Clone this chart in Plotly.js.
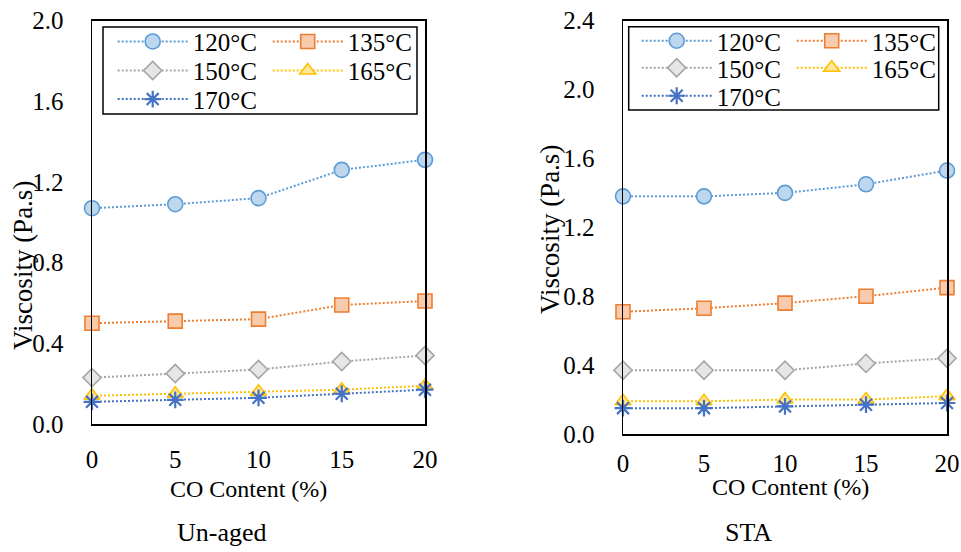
<!DOCTYPE html>
<html>
<head>
<meta charset="utf-8">
<script src="https://cdn.plot.ly/plotly-3.0.1.min.js"></script>
<style>html,body{margin:0;padding:0;background:#fff;}#chart{width:961px;height:552px;}</style>
</head>
<body>
<div id="chart"></div>
<script>
// ---- data ----
const coContent = [0, 5, 10, 15, 20];
const xTickVals = [0, 5, 10, 15, 20];
const tempLabels = ['120°C', '135°C', '150°C', '165°C', '170°C'];
const unaged120 = [1.07, 1.09, 1.12, 1.26, 1.31];
const unaged135 = [0.50, 0.51, 0.52, 0.59, 0.61];
const unaged150 = [0.23, 0.25, 0.27, 0.31, 0.34];
const unaged165 = [0.14, 0.15, 0.16, 0.17, 0.19];
const unaged170 = [0.11, 0.12, 0.13, 0.15, 0.17];
const sta120 = [1.38, 1.38, 1.40, 1.45, 1.53];
const sta135 = [0.71, 0.73, 0.76, 0.80, 0.85];
const sta150 = [0.37, 0.37, 0.37, 0.41, 0.44];
const sta165 = [0.19, 0.19, 0.20, 0.20, 0.22];
const sta170 = [0.15, 0.15, 0.16, 0.17, 0.18];
const leftYTicks = [0, 0.4, 0.8, 1.2, 1.6, 2.0];
const rightYTicks = [0, 0.4, 0.8, 1.2, 1.6, 2.0, 2.4];

// ---- styles ----
const FONT = 'Times New Roman, Liberation Serif, DejaVu Serif, serif';
const styles = [
  {line: '#5B9BD5', symbol: 'circle', fill: '#BDD7EE', size: 15},
  {line: '#ED7D31', symbol: 'square', fill: '#F8CBAD', size: 14},
  {line: '#A5A5A5', symbol: 'diamond', fill: '#E7E6E6', size: 14},
  {line: '#FFC000', symbol: 'triangle-up', fill: '#FFE699', size: 14},
  {line: '#4472C4', symbol: 'asterisk-open', fill: '#4472C4', size: 14}
];
const unagedSeries = [unaged120, unaged135, unaged150, unaged165, unaged170];
const staSeries = [sta120, sta135, sta150, sta165, sta170];
const leftLegends = ['legend', 'legend', 'legend2', 'legend2', 'legend3'];
const rightLegends = ['legend4', 'legend4', 'legend5', 'legend5', 'legend6'];

function mk(ys, i, xa, ya, leg) {
  const s = styles[i];
  return {
    x: coContent, y: ys, name: tempLabels[i], type: 'scatter', mode: 'lines+markers',
    xaxis: xa, yaxis: ya, legend: leg, cliponaxis: false,
    line: {color: s.line, width: 2, dash: '2px,2px'},
    marker: {symbol: s.symbol, size: s.size, color: s.fill,
      line: {color: s.line, width: s.symbol === 'asterisk-open' ? 2.2 : 1.6}}
  };
}
const traces = [];
unagedSeries.forEach((ys, i) => traces.push(mk(ys, i, 'x', 'y', leftLegends[i])));
staSeries.forEach((ys, i) => traces.push(mk(ys, i, 'x2', 'y2', rightLegends[i])));

const W = 961, H = 552;
const px = v => v / W, py = v => 1 - v / H;

const axFont = {family: FONT, size: 25, color: '#000'};
function xAxis(dom, anchor, standoff) {
  return {domain: dom, anchor: anchor, range: [0, 20], tickvals: xTickVals, ticktext: xTickVals.map(String),
    showgrid: false, zeroline: false, showline: true, mirror: true, linecolor: '#000', linewidth: 1.5,
    ticks: '', tickfont: axFont, ticklabelstandoff: standoff, automargin: false, fixedrange: true};
}
function yAxis(dom, anchor, rng, tv) {
  return {domain: dom, anchor: anchor, range: rng, tickvals: tv, ticktext: tv.map(v => v.toFixed(1)),
    showgrid: false, zeroline: false, showline: true, mirror: true, linecolor: '#000', linewidth: 1.5,
    ticks: '', tickfont: axFont, ticklabelstandoff: 22, automargin: false, fixedrange: true};
}
function leg(x, yc) {
  return {orientation: 'h', x: x, xanchor: 'left', y: yc, yanchor: 'middle',
    font: {family: FONT, size: 25, color: '#000'}, bgcolor: 'rgba(0,0,0,0)', borderwidth: 0,
    itemwidth: 70, entrywidth: 70, entrywidthmode: 'pixels', tracegroupgap: 0, itemclick: false};
}
const ann = (text, x, y, angle, size) => ({text: text, x: px(x), y: py(y), xref: 'paper', yref: 'paper',
  showarrow: false, xanchor: 'center', yanchor: 'middle', textangle: angle || 0,
  font: {family: FONT, size: size || 24, color: '#000'}});

const layout = {
  width: W, height: H, margin: {l: 0, r: 0, t: 0, b: 0, autoexpand: false},
  paper_bgcolor: '#fff', plot_bgcolor: '#fff', showlegend: true,
  font: {family: FONT, color: '#000'},
  xaxis: xAxis([px(92), px(425)], 'y', 12),
  yaxis: yAxis([py(424), py(20.7)], 'x', [0, 2.0], leftYTicks),
  xaxis2: xAxis([px(623), px(947)], 'y2', 6),
  yaxis2: yAxis([py(434), py(20.7)], 'x2', [0, 2.4], rightYTicks),
  legend: leg(px(112.7), py(41.7)),
  legend2: leg(px(112.7), py(70.7)),
  legend3: leg(px(112.7), py(99.3)),
  legend4: leg(px(636.7), py(41)),
  legend5: leg(px(636.7), py(68)),
  legend6: leg(px(636.7), py(96)),
  shapes: [
    {type: 'rect', xref: 'paper', yref: 'paper', x0: px(103), x1: px(417), y0: py(114), y1: py(27),
      line: {color: '#000', width: 1.5}, fillcolor: '#fff', layer: 'above'},
    {type: 'rect', xref: 'paper', yref: 'paper', x0: px(628.7), x1: px(938.7), y0: py(110), y1: py(26.7),
      line: {color: '#000', width: 1.5}, fillcolor: '#fff', layer: 'above'}
  ],
  annotations: [
    ann('Viscosity (Pa.s)', 23, 266, -90, 27),
    ann('Viscosity (Pa.s)', 550, 230, -90, 27),
    ann('CO Content (%)', 248, 489, 0, 24),
    ann('CO Content (%)', 790, 487, 0, 24),
    ann('Un-aged', 222, 532, 0, 26),
    ann('STA', 748, 532, 0, 26)
  ]
};
Plotly.newPlot('chart', traces, layout, {displayModeBar: false, staticPlot: true});
</script>
</body>
</html>
